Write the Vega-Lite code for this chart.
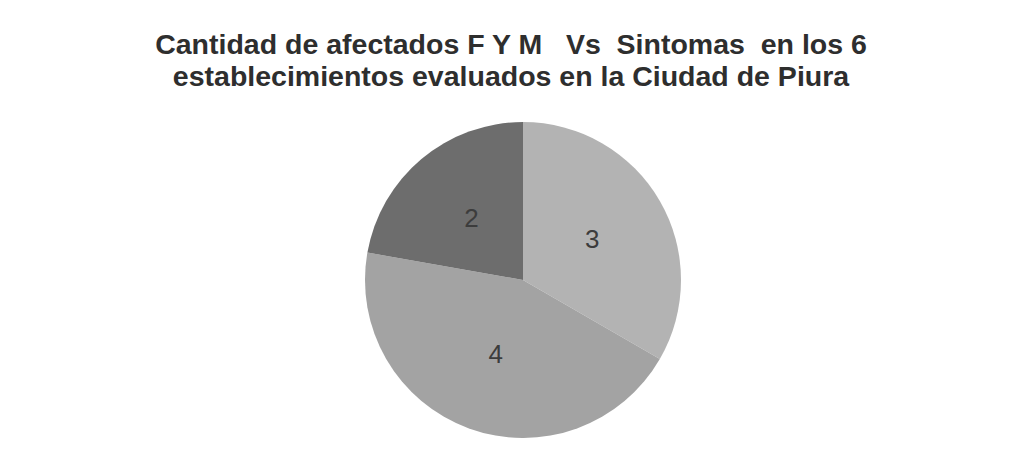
{
  "$schema": "https://vega.github.io/schema/vega-lite/v6.json",
  "width": 1006,
  "height": 316,
  "autosize": {"type": "none"},
  "padding": {"left": 20, "top": 122, "right": 0, "bottom": 0},
  "background": "white",
  "title": {
    "text": ["Cantidad de afectados F Y M \u00a0\u00a0Vs \u00a0Sintomas \u00a0en los 6", "establecimientos evaluados en la Ciudad de Piura"],
    "font": "Liberation Sans",
    "fontSize": 28.5,
    "fontWeight": "bold",
    "color": "#2e2e2e",
    "lineHeight": 32,
    "anchor": "middle",
    "frame": "group",
    "baseline": "alphabetic",
    "offset": 8,
    "dx": -12
  },
  "config": {"view": {"stroke": null}},
  "data": {
    "values": [
      {"cat": "A", "value": 3, "idx": 1},
      {"cat": "B", "value": 4, "idx": 2},
      {"cat": "C", "value": 2, "idx": 3}
    ]
  },
  "encoding": {
    "theta": {"field": "value", "type": "quantitative", "stack": true},
    "order": {"field": "idx", "type": "quantitative"},
    "color": {
      "field": "cat",
      "type": "nominal",
      "scale": {"domain": ["A", "B", "C"], "range": ["#b3b3b3", "#a3a3a3", "#6d6d6d"]},
      "legend": null
    }
  },
  "layer": [
    {"mark": {"type": "arc", "radius": 158, "stroke": null}},
    {"mark": {"type": "text", "radius": 80, "font": "Liberation Sans", "fontSize": 26, "baseline": "middle"},
     "encoding": {"text": {"field": "value", "type": "quantitative"}, "color": {"value": "#3c3c3c"}}}
  ]
}
